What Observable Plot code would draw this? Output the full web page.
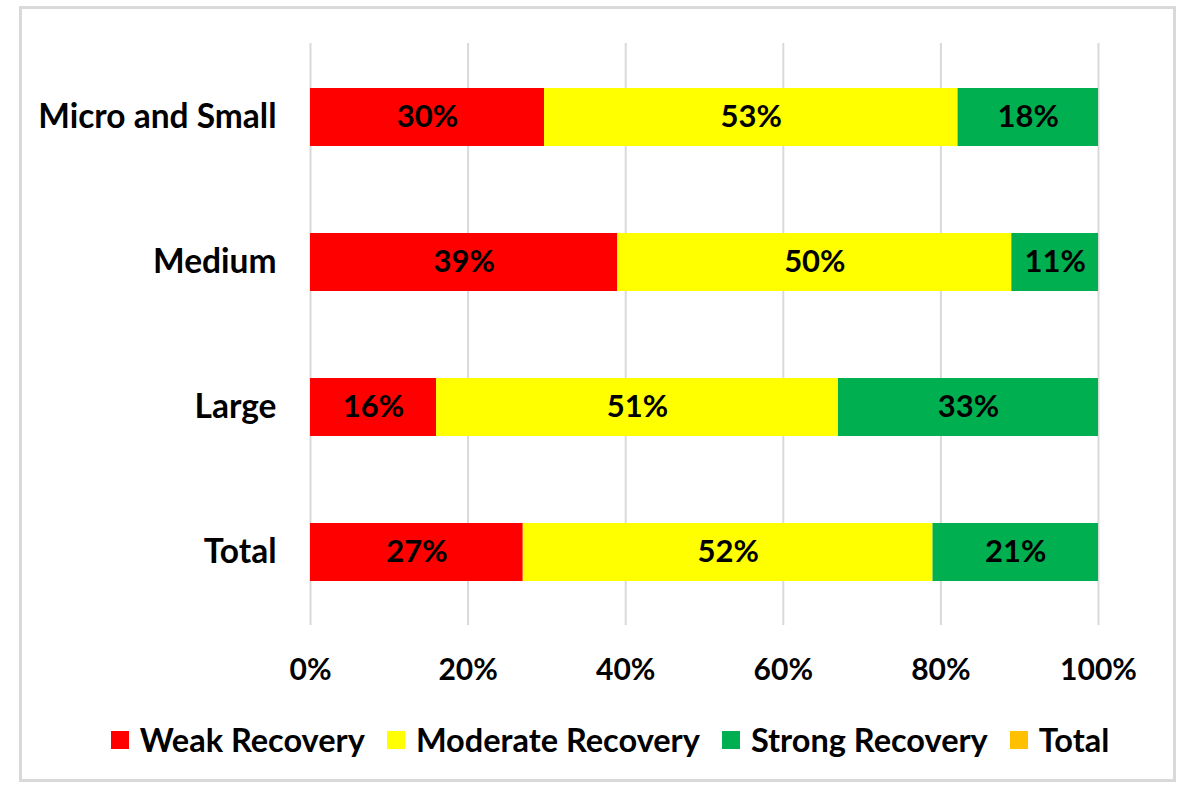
<!DOCTYPE html>
<html>
<head>
<meta charset="utf-8">
<script src="https://cdn.jsdelivr.net/npm/d3@7"></script>
<script src="https://cdn.jsdelivr.net/npm/@observablehq/plot@0.6"></script>
<style>
  html, body { margin: 0; padding: 0; background: #fff; }
  body { width: 1180px; height: 785px; position: relative; overflow: hidden; font-family: Lato, "Open Sans", sans-serif; }
  #frame { position: absolute; left: 19px; top: 6px; width: 1151px; height: 770px; border: 3px solid #d9d9d9; box-sizing: content-box; pointer-events: none; }
  #chart { position: absolute; left: 0; top: 0; }
  #legend { position: absolute; left: 20px; top: 720px; width: 1180px; display: flex; justify-content: center; align-items: center; font-weight: bold; font-size: 32.5px; color: #000; }
  .item { display: flex; align-items: center; margin: 0 11px; }
  .swatch { width: 18px; height: 18px; margin-right: 11px; }
</style>
</head>
<body>
<div id="chart"></div>
<div id="legend"></div>
<div id="frame"></div>
<script>
// Firm size categories (top to bottom)
const categories = ["Micro and Small", "Medium", "Large", "Total"];
// Recovery series and colours
const seriesNames = ["Weak Recovery", "Moderate Recovery", "Strong Recovery", "Total"];
const seriesColors = ["#ff0000", "#ffff00", "#00b050", "#ffc000"];
// Percent shares per category (Weak, Moderate, Strong)
const weak = [30, 39, 16, 27];
const moderate = [53, 50, 51, 52];
const strong = [18, 11, 33, 21];
const xTicks = [0, 0.2, 0.4, 0.6, 0.8, 1];

const rows = [];
categories.forEach((c, i) => {
  rows.push({cat: c, series: seriesNames[0], value: weak[i]});
  rows.push({cat: c, series: seriesNames[1], value: moderate[i]});
  rows.push({cat: c, series: seriesNames[2], value: strong[i]});
});

const stackOpts = {x: "value", y: "cat", z: "series", offset: "normalize", order: null};

const chart = Plot.plot({
  width: 1180,
  height: 700,
  marginLeft: 310,
  marginRight: 82,
  marginTop: 43,
  marginBottom: 75,
  style: {fontFamily: "Lato, 'Open Sans', sans-serif", fontSize: "30px", fontWeight: "bold", color: "#000", background: "transparent"},
  x: {domain: [0, 1]},
  y: {domain: categories, paddingInner: 0.6, paddingOuter: 0.3},
  color: {domain: seriesNames, range: seriesColors},
  marks: [
    Plot.gridX(xTicks, {stroke: "#d9d9d9", strokeOpacity: 1, strokeWidth: 2}),
    Plot.barX(rows, Plot.stackX({...stackOpts, fill: "series", inset: 0})),
    Plot.text(rows, Plot.stackX({...stackOpts, text: d => d.value + "%", fill: "#000", fontSize: 31, fontWeight: "bold"})),
    Plot.axisX({ticks: xTicks, tickFormat: d3.format(".0%"), tickSize: 0, tickPadding: 33, fontSize: 30, label: null}),
    Plot.axisY({tickSize: 0, tickPadding: 34, fontSize: 33.5, label: null})
  ]
});
document.getElementById("chart").append(chart);

// Legend row below the plot
const legend = document.getElementById("legend");
seriesNames.forEach((name, i) => {
  const item = document.createElement("div");
  item.className = "item";
  const sw = document.createElement("span");
  sw.className = "swatch";
  sw.style.background = seriesColors[i];
  const label = document.createElement("span");
  label.textContent = name;
  item.append(sw, label);
  legend.append(item);
});
</script>
</body>
</html>
